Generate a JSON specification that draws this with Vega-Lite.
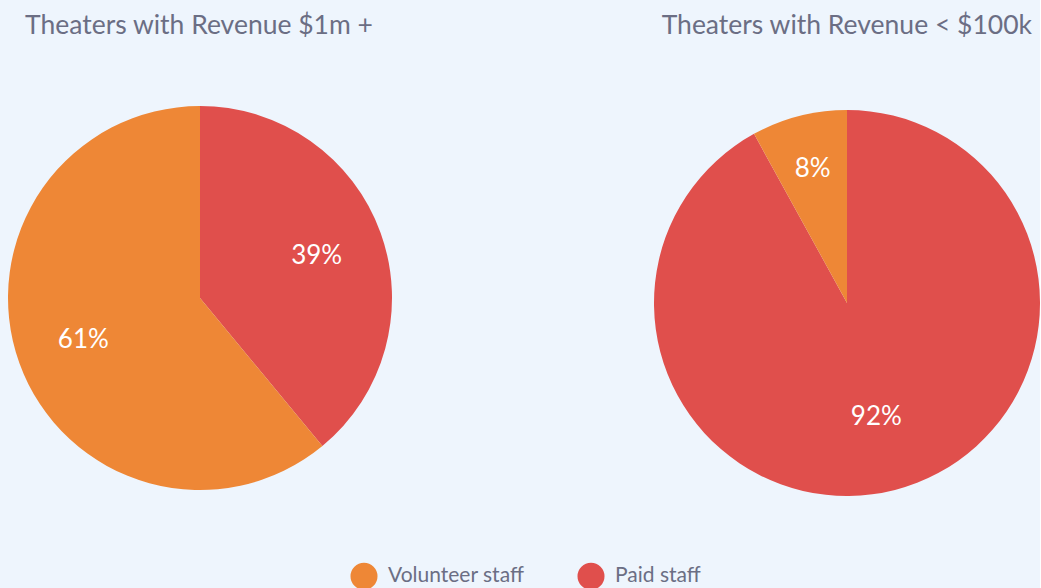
{
  "$schema": "https://vega.github.io/schema/vega-lite/v6.json",
  "background": "#eef5fd",
  "padding": {"left": 8, "top": 12, "right": 0, "bottom": 0},
  "config": {
    "view": {"stroke": null},
    "font": "Lato",
    "title": {"fontSize": 26.5, "fontWeight": "normal", "color": "#6b6e84", "font": "Lato"}
  },
  "data": {
    "values": [
      {"group": "high", "staff": "Paid staff", "share": 0.39},
      {"group": "high", "staff": "Volunteer staff", "share": 0.61},
      {"group": "low", "staff": "Paid staff", "share": 0.92},
      {"group": "low", "staff": "Volunteer staff", "share": 0.08}
    ]
  },
  "spacing": 262,
  "hconcat": [
    {
      "title": {"text": "Theaters with Revenue $1m +", "anchor": "start", "dx": 17, "offset": 66},
      "width": 384,
      "height": 392,
      "transform": [{"filter": "datum.group === 'high'"}],
      "layer": [
        {
          "mark": {"type": "arc", "outerRadius": 192, "yOffset": -3},
          "encoding": {
            "theta": {"field": "share", "type": "quantitative", "stack": true},
            "color": {
              "field": "staff", "type": "nominal",
              "scale": {"domain": ["Volunteer staff", "Paid staff"], "range": ["#ee8736", "#e04f4c"]},
              "legend": {
                "orient": "none", "direction": "horizontal", "legendX": 342, "legendY": 457,
                "title": null, "symbolType": "circle", "symbolSize": 730, "symbolStrokeWidth": 0,
                "labelFontSize": 21, "labelColor": "#6b6e84", "labelOffset": 10, "columnPadding": 52,
                "labelFont": "Lato", "symbolOpacity": 1
              }
            },
            "order": {"field": "staff", "sort": "ascending"}
          }
        },
        {
          "mark": {"type": "text", "radius": 124, "yOffset": -3, "fontSize": 26, "fill": "white", "font": "Lato"},
          "encoding": {
            "theta": {"field": "share", "type": "quantitative", "stack": true},
            "detail": {"field": "staff", "type": "nominal"},
            "order": {"field": "staff", "sort": "ascending"},
            "text": {"field": "share", "type": "quantitative", "format": ".0%"}
          }
        }
      ]
    },
    {
      "title": {"text": "Theaters with Revenue < $100k", "anchor": "end", "dx": -8, "offset": 66},
      "width": 386,
      "height": 392,
      "transform": [{"filter": "datum.group === 'low'"}],
      "layer": [
        {
          "mark": {"type": "arc", "outerRadius": 193, "yOffset": 2},
          "encoding": {
            "theta": {"field": "share", "type": "quantitative", "stack": true},
            "color": {"field": "staff", "type": "nominal"},
            "order": {"field": "staff", "sort": "ascending"}
          }
        },
        {
          "mark": {"type": "text", "radius": 138, "yOffset": 2, "fontSize": 26, "fill": "white", "font": "Lato"},
          "encoding": {
            "theta": {"field": "share", "type": "quantitative", "stack": true},
            "detail": {"field": "staff", "type": "nominal"},
            "order": {"field": "staff", "sort": "ascending"},
            "text": {"condition": {"test": "datum.share < 0.5", "field": "share", "type": "quantitative", "format": ".0%"}, "value": ""}
          }
        },
        {
          "mark": {"type": "text", "radius": 118, "yOffset": 2, "fontSize": 26, "fill": "white", "font": "Lato"},
          "encoding": {
            "theta": {"field": "share", "type": "quantitative", "stack": true},
            "detail": {"field": "staff", "type": "nominal"},
            "order": {"field": "staff", "sort": "ascending"},
            "text": {"condition": {"test": "datum.share >= 0.5", "field": "share", "type": "quantitative", "format": ".0%"}, "value": ""}
          }
        }
      ]
    }
  ]
}
